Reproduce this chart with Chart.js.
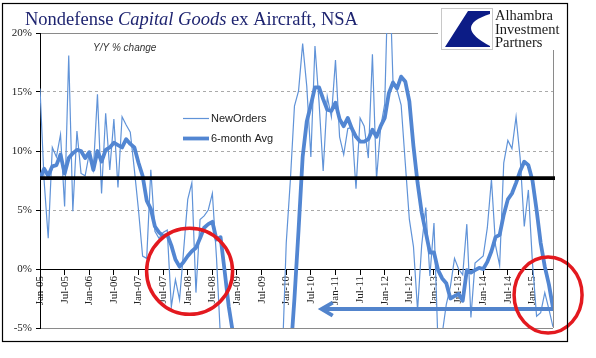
<!DOCTYPE html>
<html><head><meta charset="utf-8">
<script src="https://cdn.jsdelivr.net/npm/chart.js@4/dist/chart.umd.min.js"></script>
<style>html,body{margin:0;padding:0;background:#fff;}canvas{display:block;}</style>
</head><body>
<canvas id="c" width="596" height="358"></canvas>
<script>
// ---- data ----
const months = ['Jan','Feb','Mar','Apr','May','Jun','Jul','Aug','Sep','Oct','Nov','Dec'];
const years = ['05','06','07','08','09','10','11','12','13','14','15'];
const categories = years.flatMap(y => months.map(m => m + '-' + y)).slice(0, 126);

const newOrders = [
 15.3, 7.5, 2.6, 10.3, 9.5, 11.4, 5.3, 18.1, 4.9, 11.7, 8.1, 7.9,
 9.8, 8.4, 14.8, 6.4, 13.2, 8.4, 12.7, 6.9, 12.9, 12.2, 11.6, 8.4,
 5.0, 1.1, 0.9, 8.4, 3.2, 2.6, 3.1, 3.3, -3.2, -0.9, -2.6, 1.6,
 5.9, 7.3, -2.0, 4.2, 4.5, 5.0, 6.4, 1.0, -6.0, -12, -15, -20,
 -25, -28, -30, -27, -30, -25, -22, -20, -18, -15, -10, -8,
 2.2, 7.5, 13.8, 15.1, 19.1, 15.5, 9.5, 18.9, 14.1, 8.3, 14.6, 12.9,
 17.7, 11.2, 9.7, 11.9, 12.0, 6.8, 12.8, 12.1, 9.4, 18.2, 7.6, 12.0,
 14.0, 27.0, 16.0, 15.2, 13.9, 9.0, 4.2, 1.9, -3.5, 2.0, 5.2, -0.6,
 3.9, -6.5, -5.5, -3.0, -1.5, 0.9, 0.0, -0.5, 3.8, -4.1, 0.5, 0.8,
 1.1, 3.5, 7.6, 2.0, 0.3, 9.0, 10.9, 10.2, 12.9, 9.4, 3.6, 6.7,
 0.5, -4.0, -3.7, -2.0, -3.4, -4.9
];
const sixMonthAvg = [
 7.7, 8.5, 7.9, 8.7, 8.8, 9.7, 8.1, 9.4, 9.8, 10.1, 10.0, 9.4,
 9.9, 8.4, 10.0, 9.1, 10.1, 10.3, 10.7, 10.5, 10.3, 11.0, 10.6, 10.3,
 9.0, 7.9, 5.8, 5.1, 3.6, 3.1, 2.8, 2.9, 2.0, 0.8, 0.2, 0.6,
 1.1, 1.5, 1.8, 2.6, 3.5, 3.8, 4.0, 2.5, 2.7, -0.2, -3.2, -5.4,
 -9, -13, -17, -21, -24, -26, -27, -27, -25, -22, -19, -15,
 -11, -7.5, -2.5, 3.3, 9.5, 12.5, 13.9, 15.4, 15.4, 14.4, 13.5, 13.4,
 14.1, 12.7, 12.1, 12.8, 11.9, 11.2, 10.8, 10.8, 11.0, 11.8, 11.2, 12.1,
 12.8, 14.9, 15.8, 15.3, 16.3, 15.9, 14.2, 10.4, 7.3, 4.8, 3.1, 1.4,
 1.4, -0.1, -0.8, -1.2, -2.5, -2.3, -2.1, -2.7, -0.1, -0.3, -0.1, 0.1,
 0.0, 0.6, 1.5, 2.7, 2.9, 4.6, 5.9, 6.4, 7.3, 8.3, 9.1, 8.8,
 7.5, 5.0, 2.2, 0.2, -1.3, -3.3
];
const yRange = [-5, 20];
const yStep = 5;
const benchmarkLevel = 7.7;
// annotation anchors in data space: [category index, value]
const circleAnchors = [[36.45, -0.2], [123.8, -2.2]];
const arrowSpan = [125, 68.4, -3.4]; // from index, to index, level

const BLUE_THIN = '#6093D8';
const BLUE_THICK = '#5286D2';

const overlay = {
  id: 'overlay',
  beforeDraw(chart) {
    const ctx = chart.ctx;
    ctx.save(); ctx.fillStyle = '#fff'; ctx.fillRect(0, 0, chart.width, chart.height); ctx.restore();
  },
  afterDatasetsDraw(chart) {
    const {ctx, chartArea: a, scales: {x, y}} = chart;
    ctx.save();
    // plot area right border
    ctx.strokeStyle = '#8a8a8a'; ctx.lineWidth = 1;
    const rx = Math.round(a.right) + 0.5;
    ctx.beginPath(); ctx.moveTo(rx, a.top); ctx.lineTo(rx, a.bottom); ctx.stroke();

    // benchmark black line
    const yb = y.getPixelForValue(benchmarkLevel);
    ctx.strokeStyle = '#000'; ctx.lineWidth = 3.6;
    ctx.beginPath(); ctx.moveTo(a.left, yb); ctx.lineTo(x.getPixelForValue(categories.length - 1) + 2, yb); ctx.stroke();

    // blue arrow
    const ya = y.getPixelForValue(arrowSpan[2]);
    const x0 = x.getPixelForValue(arrowSpan[0]);
    const x1 = x.getPixelForValue(arrowSpan[1]);
    ctx.strokeStyle = '#5284CC'; ctx.lineWidth = 4; ctx.lineCap = 'butt'; ctx.lineJoin = 'miter';
    ctx.beginPath(); ctx.moveTo(x0, ya); ctx.lineTo(x1 + 2, ya); ctx.stroke();
    ctx.beginPath(); ctx.moveTo(x1 + 12, ya - 6.5); ctx.lineTo(x1 + 1, ya); ctx.lineTo(x1 + 12, ya + 6.5); ctx.stroke();

    // red circles
    ctx.strokeStyle = '#E3191F'; ctx.lineWidth = 3.5;
    const radii = [[43, 43], [34, 38]];
    circleAnchors.forEach((c, i) => {
      const cx = x.getPixelForValue(c[0]);
      const cy = y.getPixelForValue(c[1]);
      ctx.beginPath(); ctx.ellipse(cx, cy, radii[i][0], radii[i][1], 0, 0, Math.PI * 2); ctx.stroke();
    });

    // note text
    ctx.fillStyle = '#333';
    ctx.font = 'italic 10px "Liberation Sans"';
    ctx.textBaseline = 'middle'; ctx.textAlign = 'left';
    ctx.fillText('Y/Y % change', 93, 48);

    // legend
    const ds = chart.data.datasets;
    const legY = [118.5, 138.5];
    ctx.font = '11px "Liberation Sans"';
    ds.forEach((d, i) => {
      ctx.strokeStyle = d.borderColor; ctx.lineWidth = d.borderWidth; ctx.lineCap = 'butt';
      ctx.beginPath(); ctx.moveTo(183, legY[i]); ctx.lineTo(209, legY[i]); ctx.stroke();
      ctx.fillStyle = '#222';
      ctx.fillText(d.label, 211, legY[i]);
    });

    // logo area
    ctx.fillStyle = '#fff';
    ctx.fillRect(438, 5, 128, 45);
    ctx.strokeStyle = '#c8c8c8'; ctx.lineWidth = 1;
    ctx.strokeRect(441.5, 8.5, 51, 41);
    ctx.fillStyle = '#0C1C86';
    ctx.beginPath();
    ctx.moveTo(468, 11); ctx.lineTo(490, 11); ctx.lineTo(490, 14);
    ctx.quadraticCurveTo(452, 26, 490, 46); ctx.lineTo(490, 47); ctx.lineTo(445, 47);
    ctx.closePath(); ctx.fill();
    ctx.fillStyle = '#1a1a1a';
    ctx.font = '14.5px "Liberation Serif"';
    ctx.textBaseline = 'alphabetic';
    ctx.fillText('Alhambra', 495, 20);
    ctx.fillText('Investment', 495, 33.5);
    ctx.fillText('Partners', 495, 47);

    // title
    ctx.fillStyle = '#1E2470';
    let tx = 25;
    const parts = [['Nondefense ', ''], ['Capital Goods', 'italic '], [' ex Aircraft, NSA', '']];
    parts.forEach(p => {
      ctx.font = p[1] + '18.5px "Liberation Serif"';
      ctx.fillText(p[0], tx, 25);
      tx += ctx.measureText(p[0]).width;
    });

    // outer frame
    ctx.strokeStyle = '#000'; ctx.lineWidth = 1.2;
    ctx.strokeRect(2.5, 3.5, 565, 338);
    ctx.restore();
  }
};

new Chart(document.getElementById('c'), {
  type: 'line',
  data: {
    labels: categories,
    datasets: [
      { label: 'NewOrders', data: newOrders, borderColor: BLUE_THIN, borderWidth: 1.2,
        pointRadius: 0, tension: 0, fill: false, clip: 0, order: 2 },
      { label: '6-month Avg', data: sixMonthAvg, borderColor: BLUE_THICK, borderWidth: 3.8,
        pointRadius: 0, tension: 0, fill: false, clip: 0, order: 1, borderJoinStyle: 'round' }
    ]
  },
  options: {
    responsive: false,
    animation: false,
    devicePixelRatio: 1,
    layout: { padding: { left: 0, top: 33, right: 43, bottom: 30 } },
    plugins: { legend: { display: false }, tooltip: { enabled: false } },
    scales: {
      x: {
        type: 'category',
        offset: false,
        position: { y: 0 },
        afterFit: s => { s.height = 0; },
        grid: { display: true, drawOnChartArea: false, drawTicks: true, tickLength: 5, tickColor: '#000' },
        border: { display: true, color: '#000', width: 1 },
        ticks: {
          autoSkip: false, minRotation: 90, maxRotation: 90, padding: 2,
          color: '#222', font: { family: '"Liberation Serif"', size: 11 },
          callback: function (val, idx) { return idx % 6 === 0 ? this.getLabelForValue(val) : null; }
        }
      },
      y: {
        min: yRange[0], max: yRange[1],
        afterFit: s => { s.width = 40; },
        grid: {
          color: c => (c.tick && c.tick.value === 0) ? 'rgba(0,0,0,0)' :
                 (c.tick && (c.tick.value === yRange[1] || c.tick.value === yRange[0])) ? '#8a8a8a' : '#aaaaaa',
          lineWidth: 1, drawTicks: true, tickLength: 4, tickColor: '#000'
        },
        border: {
          display: true, color: '#000', width: 1,
          dash: c => (c.tick && (c.tick.value === yRange[1] || c.tick.value === yRange[0])) ? [] : [3, 3]
        },
        ticks: {
          stepSize: yStep, padding: 4, color: '#222',
          font: { family: '"Liberation Serif"', size: 11 },
          callback: v => v + '%'
        }
      }
    }
  },
  plugins: [overlay]
});
</script>
</body></html>
